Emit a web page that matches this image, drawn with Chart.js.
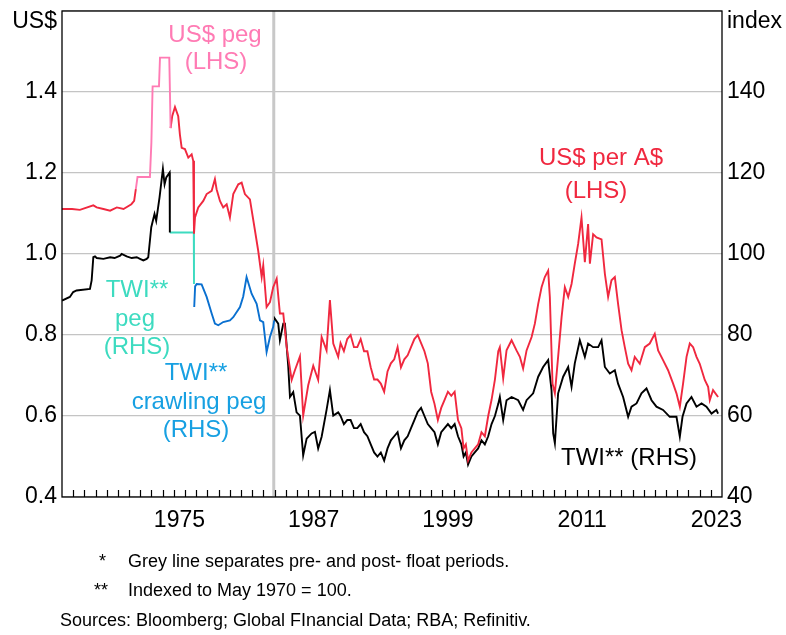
<!DOCTYPE html>
<html>
<head>
<meta charset="utf-8">
<script src="https://cdn.jsdelivr.net/npm/chart.js@4.4.1/dist/chart.umd.min.js"></script>
<style>
  body { margin: 0; background: #fff; }
  #wrap { position: relative; width: 786px; height: 635px; font-family: "Liberation Sans", Arial, sans-serif; }
  .note { position: absolute; font-size: 18px; line-height: 20px; color: #000; white-space: nowrap; }
</style>
</head>
<body>
<div id="wrap">
  <canvas id="chart" width="786" height="635"></canvas>
  <div class="note" style="left:99px; top:551px;">*</div>
  <div class="note" style="left:128px; top:551px;">Grey line separates pre- and post- float periods.</div>
  <div class="note" style="left:94px; top:580px;">**</div>
  <div class="note" style="left:128px; top:580px;">Indexed to May 1970 = 100.</div>
  <div class="note" style="left:60px; top:610px;">Sources: Bloomberg; Global FInancial Data; RBA; Refinitiv.</div>
</div>
<script>
  // [year, value]
  // US$ per A$ (LHS), before the US$ peg
  const audEarly = [
    [1965.0, 1.111], [1965.9, 1.111], [1966.6, 1.109], [1967.8, 1.12], [1968.1, 1.115],
    [1968.7, 1.111], [1969.3, 1.107], [1969.9, 1.115], [1970.5, 1.111], [1971.2, 1.123],
    [1971.45, 1.131], [1971.6, 1.16]
  ];
  // US$ peg (LHS)
  const usPeg = [
    [1971.6, 1.16], [1971.75, 1.19], [1972.86, 1.19], [1972.99, 1.275], [1973.1, 1.414],
    [1973.67, 1.414], [1973.76, 1.485], [1974.59, 1.485], [1974.71, 1.311]
  ];
  // US$ per A$ (LHS), from the end of the US$ peg
  const audLate = [
    [1974.71, 1.311], [1974.85, 1.34], [1975.1, 1.363], [1975.39, 1.34], [1975.54, 1.295],
    [1975.7, 1.262], [1975.99, 1.259], [1976.29, 1.238], [1976.59, 1.246], [1976.73, 1.23],
    [1976.8, 1.05], [1976.89, 1.09], [1977.18, 1.115], [1977.63, 1.131], [1977.93, 1.148],
    [1978.38, 1.156], [1978.67, 1.185], [1978.82, 1.16], [1979.12, 1.131], [1979.41, 1.115],
    [1979.72, 1.123], [1980.01, 1.09], [1980.31, 1.148], [1980.76, 1.172], [1981.06, 1.176],
    [1981.35, 1.148], [1981.8, 1.135], [1982.25, 1.058], [1982.54, 1.008], [1982.85, 0.943],
    [1982.99, 0.972], [1983.29, 0.869], [1983.59, 0.881], [1983.88, 0.918], [1984.19, 0.939],
    [1984.48, 0.853], [1984.78, 0.853], [1985.08, 0.771], [1985.53, 0.689], [1985.82, 0.713],
    [1986.27, 0.747], [1986.56, 0.601], [1987.01, 0.676], [1987.46, 0.724], [1987.9, 0.689],
    [1988.21, 0.795], [1988.65, 0.762], [1988.95, 0.886], [1989.25, 0.779], [1989.69, 0.746],
    [1989.9, 0.78], [1990.2, 0.76], [1990.5, 0.79], [1990.8, 0.80], [1991.1, 0.77],
    [1991.4, 0.77], [1991.7, 0.79], [1992.0, 0.76], [1992.3, 0.76], [1992.6, 0.72],
    [1992.9, 0.69], [1993.2, 0.69], [1993.5, 0.68], [1993.8, 0.66], [1994.1, 0.71],
    [1994.4, 0.73], [1994.7, 0.74], [1995.0, 0.77], [1995.3, 0.72], [1995.6, 0.74],
    [1995.9, 0.75], [1996.2, 0.77], [1996.5, 0.79], [1996.8, 0.80], [1997.1, 0.78],
    [1997.4, 0.76], [1997.7, 0.73], [1998.0, 0.66], [1998.3, 0.63], [1998.6, 0.59],
    [1998.9, 0.62], [1999.2, 0.64], [1999.5, 0.66], [1999.8, 0.65], [2000.1, 0.66],
    [2000.4, 0.59], [2000.7, 0.57], [2000.9, 0.52], [2001.1, 0.53], [2001.3, 0.49],
    [2001.6, 0.51], [2001.9, 0.52], [2002.2, 0.53], [2002.5, 0.56], [2002.8, 0.55],
    [2003.1, 0.60], [2003.4, 0.64], [2003.7, 0.69], [2004.0, 0.76], [2004.14, 0.770],
    [2004.44, 0.693], [2004.74, 0.762], [2005.19, 0.787], [2005.63, 0.762], [2005.93, 0.746],
    [2006.22, 0.717], [2006.53, 0.762], [2006.98, 0.795], [2007.27, 0.828], [2007.57, 0.877],
    [2007.87, 0.918], [2008.16, 0.943], [2008.46, 0.959], [2008.61, 0.894], [2008.85, 0.680],
    [2009.06, 0.656], [2009.35, 0.746], [2009.66, 0.844], [2009.95, 0.918], [2010.25, 0.894],
    [2010.55, 0.926], [2010.84, 0.976], [2011.14, 1.025], [2011.44, 1.09], [2011.74, 0.98],
    [2012.03, 1.074], [2012.19, 0.976], [2012.48, 1.049], [2012.78, 1.041], [2013.23, 1.036],
    [2013.53, 0.951], [2013.82, 0.894], [2014.12, 0.935], [2014.42, 0.943], [2014.71, 0.877],
    [2015.02, 0.812], [2015.31, 0.770], [2015.61, 0.729], [2015.91, 0.713], [2016.2, 0.746],
    [2016.65, 0.729], [2017.1, 0.770], [2017.54, 0.779], [2017.99, 0.803], [2018.29, 0.762],
    [2018.73, 0.738], [2019.18, 0.713], [2019.63, 0.680], [2019.93, 0.656], [2020.23, 0.623],
    [2020.52, 0.680], [2020.83, 0.746], [2021.12, 0.779], [2021.42, 0.770], [2021.72, 0.746],
    [2022.01, 0.729], [2022.46, 0.689], [2022.76, 0.672], [2022.91, 0.639], [2023.2, 0.664],
    [2023.65, 0.647]
  ];
  // TWI (RHS), before the TWI peg
  const twiEarly = [
    [1965.0, 88.5], [1965.7, 89.4], [1966.0, 90.6], [1966.3, 91.0], [1967.5, 91.4],
    [1967.65, 93.5], [1967.8, 99.2], [1967.95, 99.4], [1968.1, 99.0], [1968.7, 98.8],
    [1969.3, 99.2], [1969.7, 99.0], [1970.2, 99.6], [1970.33, 100.0], [1970.78, 99.4],
    [1971.23, 99.0], [1971.68, 99.2], [1971.97, 98.8], [1972.27, 98.4], [1972.57, 98.8],
    [1972.71, 99.2], [1972.98, 106.6], [1973.27, 109.9], [1973.42, 108.2], [1973.72, 114],
    [1974.02, 121], [1974.17, 117.2], [1974.32, 118.9], [1974.62, 120.1], [1974.64, 105.3]
  ];
  // TWI peg (RHS)
  const twiPeg = [[1974.64, 105.3], [1976.78, 105.3], [1976.8, 92.6]];
  // TWI crawling peg (RHS)
  const twiCrawl = [
    [1976.82, 86.9], [1976.9, 92.0], [1977.04, 92.6], [1977.48, 92.5], [1977.93, 89.4],
    [1978.38, 85.3], [1978.67, 82.8], [1978.97, 82.4], [1979.41, 83.2], [1980.01, 83.6],
    [1980.31, 84.4], [1980.91, 86.9], [1981.2, 89.5], [1981.5, 94.3], [1981.95, 90.2],
    [1982.4, 87.7], [1982.7, 83.6], [1982.99, 83.2], [1983.29, 75.8], [1983.59, 79.5],
    [1983.88, 82.0], [1983.97, 83.6]
  ];
  // TWI (RHS), floating
  const twiFloat = [
    [1983.97, 83.6], [1984.03, 84.0], [1984.33, 82.8], [1984.48, 78.7], [1984.78, 82.8],
    [1984.93, 82.8], [1985.22, 72.4], [1985.38, 64.7], [1985.67, 65.9], [1985.97, 60.9],
    [1986.27, 60.1], [1986.56, 50.3], [1986.87, 54.4], [1987.31, 55.7], [1987.61, 56.1],
    [1987.9, 52.0], [1988.21, 54.9], [1988.65, 61.5], [1988.95, 66.4], [1989.25, 60.1],
    [1989.69, 60.9], [1989.9, 60], [1990.2, 58], [1990.5, 59], [1990.8, 59], [1991.1, 57],
    [1991.4, 57], [1991.7, 58], [1992.0, 56], [1992.3, 55], [1992.6, 53], [1992.9, 51],
    [1993.2, 50], [1993.5, 51], [1993.8, 49], [1994.1, 52], [1994.4, 54], [1994.7, 55],
    [1995.0, 56], [1995.3, 52], [1995.6, 54], [1995.9, 55], [1996.2, 57], [1996.5, 59],
    [1996.8, 61], [1997.1, 62], [1997.4, 60], [1997.7, 58], [1998.0, 57], [1998.3, 56],
    [1998.6, 53], [1998.9, 56], [1999.2, 57], [1999.5, 58], [1999.8, 57], [2000.1, 58],
    [2000.4, 55], [2000.7, 53], [2000.9, 50], [2001.1, 51], [2001.3, 48], [2001.6, 50],
    [2001.9, 51], [2002.2, 52], [2002.5, 54], [2002.8, 53], [2003.1, 55], [2003.4, 58],
    [2003.7, 60], [2004.0, 63], [2004.14, 64.7], [2004.44, 59.0], [2004.74, 63.9],
    [2005.19, 64.7], [2005.78, 63.9], [2006.22, 61.5], [2006.53, 63.9], [2007.12, 65.6],
    [2007.57, 69.7], [2008.01, 72.1], [2008.46, 73.8], [2008.76, 66.4], [2008.91, 55.7],
    [2009.06, 53.3], [2009.35, 65.6], [2009.8, 69.7], [2010.25, 72.1], [2010.55, 67.2],
    [2010.84, 73.0], [2011.29, 78.7], [2011.74, 74.6], [2012.03, 77.9], [2012.48, 77.0],
    [2012.93, 77.0], [2013.23, 78.7], [2013.53, 72.1], [2013.97, 70.5], [2014.42, 71.3],
    [2014.71, 68.0], [2015.16, 64.7], [2015.61, 59.8], [2015.91, 62.3], [2016.36, 63.1],
    [2016.8, 65.6], [2017.25, 66.8], [2017.7, 63.9], [2018.14, 62.3], [2018.73, 61.5],
    [2019.33, 59.8], [2019.93, 59.8], [2020.23, 54.9], [2020.47, 59.8], [2020.83, 63.1],
    [2021.27, 64.7], [2021.72, 62.3], [2022.17, 63.1], [2022.61, 62.3], [2023.06, 60.6],
    [2023.5, 61.5], [2023.65, 60.6]
  ];

  const xLabelYears = [1975, 1987, 1999, 2011, 2023];
  const floatDate = 1983.93;

  const RED = "#F0283F", PINK = "#FF7BB4", TEAL = "#3DDBC0", BLUE = "#0A70D0", BLUE_TXT = "#17A0E2";
  const FONT = '"Liberation Sans", Arial, sans-serif';

  const pts = arr => arr.map(([x, y]) => ({ x, y }));
  const line = (data, color, axis) => ({
    data: pts(data), borderColor: color, borderWidth: 1.9, pointRadius: 0,
    tension: 0, fill: false, yAxisID: axis
  });

  const notes = [
    ["US$ peg", 215, 42, PINK], ["(LHS)", 216, 69, PINK],
    ["US$ per A$", 601, 165, RED], ["(LHS)", 596, 198, RED],
    ["TWI**", 137, 297, TEAL], ["peg", 135, 326, TEAL], ["(RHS)", 137, 354, TEAL],
    ["TWI**", 196, 380, BLUE_TXT], ["crawling peg", 199, 409, BLUE_TXT], ["(RHS)", 196, 437, BLUE_TXT],
    ["TWI** (RHS)", 629, 465, "#000"]
  ];

  const decor = {
    id: "decor",
    beforeDatasetsDraw(chart) {
      const { ctx, chartArea: a, scales } = chart;
      const gx = scales.x.getPixelForValue(floatDate);
      ctx.save();
      ctx.strokeStyle = "#c8c8c8";
      ctx.lineWidth = 3;
      ctx.beginPath(); ctx.moveTo(gx, a.top); ctx.lineTo(gx, a.bottom); ctx.stroke();
      ctx.restore();
    },
    afterDatasetsDraw(chart) {
      const { ctx, chartArea: a, scales } = chart;
      ctx.save();
      ctx.strokeStyle = "#000";
      ctx.lineWidth = 1.3;
      ctx.strokeRect(a.left, a.top, a.right - a.left, a.bottom - a.top);
      ctx.lineWidth = 1.2;
      ctx.beginPath();
      for (let yr = scales.x.min + 1; yr < scales.x.max; yr++) {
        const px = Math.round(scales.x.getPixelForValue(yr)) + 0.5;
        ctx.moveTo(px, a.bottom); ctx.lineTo(px, a.bottom - 7);
      }
      ctx.stroke();
      ctx.font = "24px " + FONT;
      ctx.textAlign = "center";
      ctx.textBaseline = "alphabetic";
      notes.forEach(([t, x, y, c]) => { ctx.fillStyle = c; ctx.fillText(t, x, y); });
      ctx.font = "23px " + FONT;
      ctx.fillStyle = "#000";
      ctx.textAlign = "right";
      ctx.fillText("US$", a.left - 5, 28);
      ctx.textAlign = "left";
      ctx.fillText("index", a.right + 5, 28);
      ctx.restore();
    }
  };

  new Chart(document.getElementById("chart"), {
    type: "line",
    data: {
      datasets: [
        line(audEarly, RED, "y"),
        line(usPeg, PINK, "y"),
        line(audLate, RED, "y"),
        line(twiEarly, "#000", "y1"),
        line(twiPeg, TEAL, "y1"),
        line(twiCrawl, BLUE, "y1"),
        line(twiFloat, "#000", "y1")
      ]
    },
    plugins: [decor],
    options: {
      responsive: false,
      animation: false,
      devicePixelRatio: 1,
      layout: { padding: { top: 11, left: 0, right: 0, bottom: 98 } },
      plugins: { legend: { display: false }, tooltip: { enabled: false } },
      scales: {
        x: {
          type: "linear", min: 1965, max: 2024,
          grid: { display: false, drawTicks: false },
          border: { display: false },
          afterBuildTicks: s => { s.ticks = xLabelYears.map(v => ({ value: v + 0.5 })); },
          afterFit: s => { s.height = 40; },
          ticks: {
            autoSkip: false, maxRotation: 0, padding: 10, color: "#000",
            font: { family: FONT, size: 23 },
            callback: v => String(Math.floor(v))
          }
        },
        y: {
          position: "left", min: 0.4, max: 1.6,
          grid: { color: "#c4c4c4", lineWidth: 1.2, drawTicks: false },
          border: { display: false },
          afterFit: s => { s.width = 62; },
          ticks: {
            stepSize: 0.2, padding: 5, color: "#000",
            font: { family: FONT, size: 23, lineHeight: 0.4 },
            callback: v => v > 1.5 ? "" : v.toFixed(1)
          }
        },
        y1: {
          position: "right", min: 40, max: 160,
          grid: { drawOnChartArea: false, drawTicks: false },
          border: { display: false },
          afterFit: s => { s.width = 64; },
          ticks: {
            stepSize: 20, padding: 5, color: "#000",
            font: { family: FONT, size: 23, lineHeight: 0.4 },
            callback: v => v > 150 ? "" : String(v)
          }
        }
      }
    }
  });
</script>
</body>
</html>
